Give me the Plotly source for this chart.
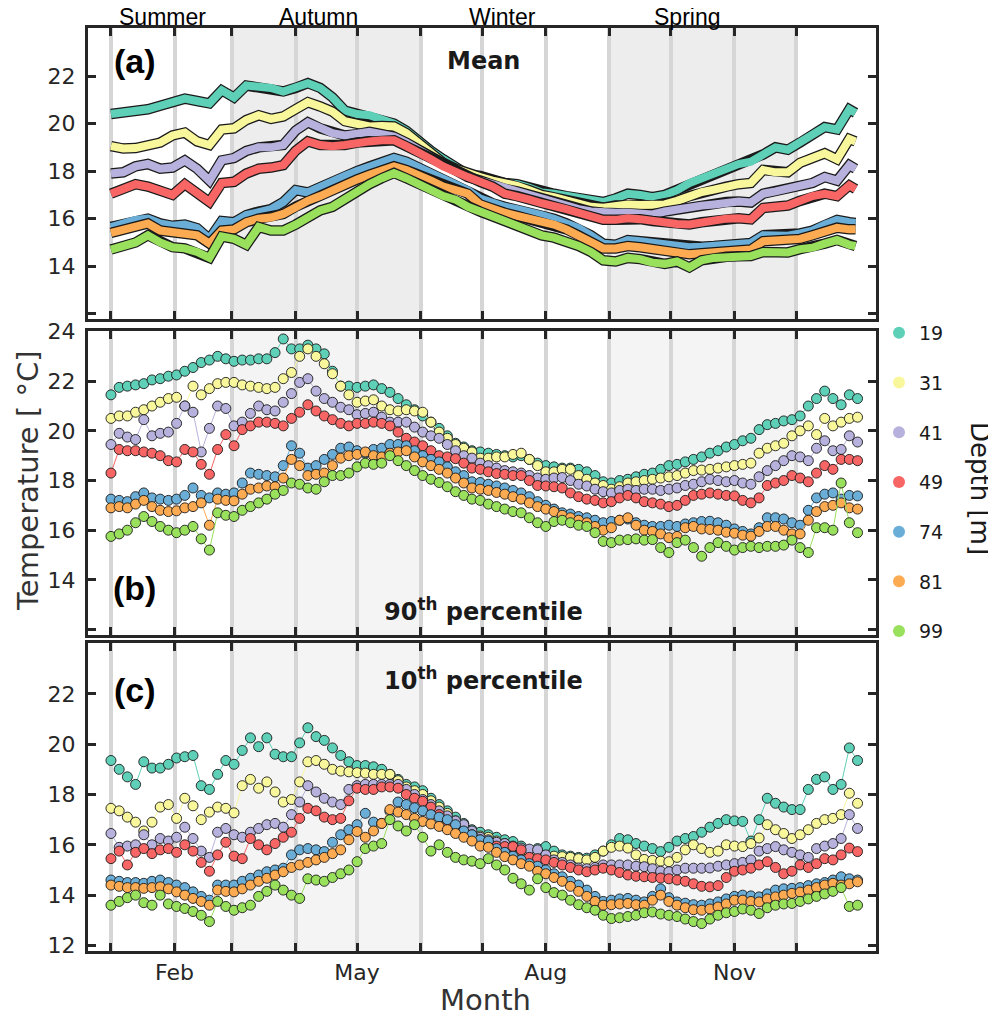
import plotly.graph_objects as go
from plotly.subplots import make_subplots

# ---- data -------------------------------------------------------------
DEPTHS = ["19", "31", "41", "49", "74", "81", "99"]
COLORS = ["#5fd0b8", "#f9f79c", "#b7b2dd", "#f76565", "#6aaed8", "#fdab52", "#99e05c"]

MONTH_STARTS = [1, 32, 60, 91, 121, 152, 182, 213, 244, 274, 305, 335]
MONTH_TEXT = ["", "Feb", "", "", "May", "", "", "Aug", "", "", "Nov", ""]
SEASONS = ["Summer", "Autumn", "Winter", "Spring"]
SEASON_MID = [26, 102, 192, 282]
SHADED = [(60, 152), (244, 335)]

# panel (a): mean, sampled every 6 days
DAYS_MEAN = list(range(1, 362, 6)) + [364]
MEAN_19 = [20.4, 20.45, 20.5, 20.6, 20.75, 20.9, 21.05, 20.95, 20.85, 21.4,
           21.1, 21.6, 21.55, 21.5, 21.35, 21.5, 21.7, 21.5, 21.1, 20.55,
           20.4, 20.35, 20.2, 20.0, 19.7, 19.25, 18.85, 18.5, 18.15, 17.85,
           17.8, 17.6, 17.5, 17.45, 17.3, 17.1, 17.05, 16.95, 16.87, 16.75,
           16.7, 16.85, 17.05, 17.0, 16.9, 17.0, 17.2, 17.5, 17.7, 17.85,
           18.1, 18.3, 18.4, 18.7, 19.0, 18.9, 19.2, 19.55, 19.85, 19.75,
           20.6, 20.45]
MEAN_31 = [19.05, 18.95, 18.97, 19.1, 19.2, 19.5, 19.62, 19.25, 19.1, 19.75,
           19.8, 20.15, 20.35, 20.2, 20.3, 20.6, 20.9, 20.72, 20.5, 20.1,
           19.95, 19.88, 19.9, 19.88, 19.6, 19.15, 18.75, 18.35, 18.1, 17.9,
           17.75, 17.6, 17.5, 17.38, 17.2, 17.0, 16.9, 16.75, 16.6, 16.5,
           16.46, 16.55, 16.6, 16.58, 16.55, 16.6, 16.75, 16.95, 17.12, 17.22,
           17.35, 17.45, 17.5, 18.05, 17.95, 17.95, 18.35, 18.55, 18.75, 18.5,
           19.35, 19.25]
MEAN_41 = [17.9, 17.95, 18.2, 18.3, 18.1, 18.15, 18.45, 18.1, 17.6, 18.45,
           18.55, 18.85, 19.0, 19.0, 19.1, 19.7, 20.05, 19.8, 19.6, 19.5,
           19.55, 19.65, 19.55, 19.45, 19.2, 18.9, 18.55, 18.25, 18.0, 17.75,
           17.6, 17.4, 17.25, 17.15, 17.0, 16.85, 16.7, 16.55, 16.4, 16.3,
           16.25, 16.25, 16.25, 16.2, 16.18, 16.3, 16.4, 16.45, 16.55, 16.6,
           16.7, 16.72, 16.68, 17.05, 17.15, 17.25, 17.4, 17.5, 17.75, 17.6,
           18.25, 18.1]
MEAN_49 = [17.05, 17.25, 17.45, 17.35, 17.15, 17.0, 17.45, 17.1, 16.7, 17.5,
           17.55, 17.9, 18.1, 18.15, 18.25, 18.85, 19.25, 19.1, 19.05, 19.1,
           19.2, 19.25, 19.3, 19.3, 19.05, 18.8, 18.5, 18.2, 17.95, 17.75,
           17.55, 17.35, 17.05, 16.95, 16.8, 16.65, 16.55, 16.4, 16.25, 16.1,
           15.95, 15.95, 16.02, 15.98, 15.9, 15.85, 15.78, 15.76, 15.85, 15.9,
           16.0, 16.02, 15.97, 16.45, 16.5, 16.55, 16.75, 16.95, 17.05, 16.95,
           17.4, 17.25]
MEAN_74 = [15.65, 15.8, 15.95, 16.0, 15.8, 15.7, 15.75, 15.6, 15.15, 15.9,
           15.85, 16.15, 16.3, 16.4, 16.7, 17.2, 17.1, 17.35, 17.55, 17.8,
           18.0, 18.2, 18.35, 18.55, 18.4, 18.15, 17.9, 17.65, 17.45, 17.2,
           16.85, 16.65, 16.5, 16.4, 16.3, 16.15, 16.0, 15.8, 15.6, 15.3,
           14.95, 14.9, 15.1, 15.05, 14.98, 14.9, 14.85, 14.8, 14.82, 14.85,
           14.9, 14.95, 14.98, 15.3, 15.3, 15.28, 15.38, 15.5, 15.75, 15.95,
           15.85, 15.82]
MEAN_81 = [15.4, 15.55, 15.7, 15.8, 15.5, 15.42, 15.42, 15.3, 14.95, 15.5,
           15.55, 15.85, 16.0, 16.05, 16.2, 16.5, 16.75, 16.95, 17.2, 17.45,
           17.65, 17.85, 18.0, 18.2, 18.05, 17.85, 17.6, 17.35, 17.2, 17.05,
           16.6, 16.4, 16.25, 16.12, 16.0, 15.88, 15.75, 15.55, 15.3, 15.0,
           14.75, 14.75, 14.85, 14.8, 14.72, 14.65, 14.55, 14.5, 14.55, 14.57,
           14.62, 14.66, 14.7, 15.05, 15.06, 15.08, 15.15, 15.3, 15.45, 15.62,
           15.55, 15.55]
MEAN_99 = [14.7, 14.85, 15.0, 15.3, 15.0, 14.8, 14.75, 14.6, 14.35, 15.25,
           15.15, 14.9, 15.65, 15.5, 15.5, 15.75, 16.1, 16.35, 16.5, 16.85,
           17.15, 17.45, 17.7, 17.92, 17.7, 17.45, 17.2, 16.95, 16.8, 16.5,
           16.3, 16.1, 15.9, 15.65, 15.5, 15.3, 15.2, 15.05, 14.85, 14.6,
           14.25, 14.2, 14.35, 14.3, 14.15, 14.1, 14.2, 13.95, 14.25, 14.35,
           14.4, 14.42, 14.43, 14.6, 14.62, 14.58, 14.72, 14.78, 14.95, 15.1,
           14.9, 14.85]

# panels (b) and (c): percentiles, sampled every 4 days
DAYS_PCT = list(range(1, 366, 4))
P90_19 = [21.45, 21.75, 21.8, 21.85, 21.9, 22.05, 22.1, 22.2, 22.25, 22.4,
          22.55, 22.75, 22.85, 23.0, 22.9, 22.8, 22.85, 22.85, 22.9, 22.9,
          23.15, 23.7, 23.3, 23.3, 23.45, 23.3, 23.1, 22.4, 21.8, 21.8,
          21.75, 21.8, 21.85, 21.7, 21.55, 21.3, 21.05, 20.85, 20.6, 20.35,
          20.1, 19.8, 19.5, 19.35, 19.2, 19.15, 19.1, 19.05, 19.0, 18.95,
          19.0, 18.85, 18.7, 18.6, 18.55, 18.5, 18.5, 18.45, 18.35, 18.2,
          17.95, 17.9, 18.0, 18.05, 18.15, 18.25, 18.3, 18.45, 18.6, 18.65,
          18.75, 18.85, 18.95, 19.1, 19.2, 19.35, 19.45, 19.6, 19.7, 20.05,
          20.25, 20.3, 20.4, 20.45, 20.6, 21.0, 21.3, 21.6, 21.3, 21.05,
          21.45, 21.3]
P90_31 = [20.5, 20.6, 20.6, 20.75, 20.85, 21.0, 21.15, 21.3, 21.35, 21.0,
          21.8, 21.45, 21.7, 21.9, 21.95, 21.95, 21.85, 21.8, 21.75, 21.7,
          21.75, 22.1, 22.35, 23.0, 23.3, 23.0, 22.7, 22.3, 21.8, 21.45,
          21.15, 21.2, 21.25, 21.0, 20.85, 20.8, 20.85, 20.8, 20.75, 20.35,
          19.95, 19.7, 19.45, 19.3, 19.15, 18.9, 18.9, 18.95, 18.95, 19.05,
          19.1, 18.85, 18.6, 18.35, 18.35, 18.45, 18.45, 18.2, 18.05, 17.9,
          17.8, 17.65, 17.75, 17.9, 17.95, 18.0, 18.05, 18.1, 18.15, 18.2,
          18.3, 18.4, 18.42, 18.45, 18.5, 18.55, 18.6, 18.65, 18.7, 19.1,
          19.3, 19.4, 19.5, 19.8, 20.0, 20.2, 19.85, 20.5, 20.2, 20.35,
          20.5, 20.55]
P90_41 = [19.45, 19.9, 19.75, 19.65, 20.45, 19.8, 19.9, 19.95, 20.3, 21.0,
          20.75, 19.15, 20.1, 21.0, 20.9, 20.2, 20.35, 20.7, 21.0, 20.85,
          20.8, 21.15, 21.5, 21.95, 22.1, 21.6, 21.3, 21.15, 20.95, 20.85,
          20.65, 20.7, 20.75, 20.55, 20.35, 20.35, 20.35, 20.15, 19.95, 19.8,
          19.7, 19.45, 19.2, 19.0, 18.9, 18.7, 18.6, 18.5, 18.4, 18.35,
          18.3, 18.2, 18.1, 18.05, 18.1, 18.12, 18.0, 17.85, 17.78, 17.65,
          17.55, 17.5, 17.6, 17.65, 17.6, 17.65, 17.65, 17.6, 17.65, 17.7,
          17.8, 17.85, 17.95, 18.05, 18.0, 17.95, 18.0, 17.9, 17.85, 18.15,
          18.4, 18.6, 18.8, 19.0, 18.95, 18.8, 19.3, 19.6, 19.2, 19.25,
          19.8, 19.55]
P90_49 = [18.3, 19.25, 19.2, 19.2, 19.15, 19.1, 19.0, 18.8, 18.75, 19.25,
          19.15, 18.65, 18.25, 19.25, 19.85, 19.4, 20.05, 20.2, 20.35, 20.35,
          20.3, 20.2, 20.5, 20.75, 21.05, 20.8, 20.6, 20.45, 20.3, 20.2,
          20.3, 20.3, 20.35, 20.3, 20.2, 19.95, 19.7, 19.55, 19.4, 19.2,
          19.0, 18.95, 18.88, 18.7, 18.5, 18.45, 18.35, 18.28, 18.25, 18.2,
          18.2, 18.0, 17.8, 17.78, 17.75, 17.7, 17.5, 17.35, 17.25, 17.2,
          17.1, 17.15, 17.3, 17.4, 17.3, 17.15, 17.1, 17.05, 16.95, 17.0,
          17.2, 17.4, 17.45, 17.5, 17.45, 17.4, 17.38, 17.2, 17.1, 17.3,
          17.8, 17.9, 18.0, 18.2, 18.1, 17.95, 18.3, 18.6, 18.45, 18.85,
          18.85, 18.8]
P90_74 = [17.25, 17.2, 17.15, 17.35, 17.5, 17.3, 17.25, 17.2, 17.25, 17.4,
          17.7, 17.4, 17.3, 17.5, 17.45, 17.5, 17.9, 18.3, 18.25, 18.2,
          18.15, 18.6, 19.4, 19.1, 18.5, 18.6, 18.85, 19.05, 19.3, 19.35,
          19.2, 19.1, 19.25, 19.3, 19.45, 19.45, 19.4, 19.2, 19.0, 18.85,
          18.75, 18.55, 18.35, 18.2, 17.95, 17.92, 17.85, 17.78, 17.7, 17.6,
          17.5, 17.35, 17.15, 17.0, 16.85, 16.7, 16.65, 16.55, 16.5, 16.4,
          16.3, 16.35, 16.4, 16.45, 16.3, 16.2, 16.15, 16.15, 16.2, 16.15,
          16.25, 16.3, 16.35, 16.36, 16.3, 16.2, 16.05, 15.95, 15.85, 16.1,
          16.5, 16.5, 16.45, 16.3, 16.2, 16.8, 17.3, 17.45, 17.5, 17.25,
          17.4, 17.38]
P90_81 = [16.9, 16.95, 16.9, 17.05, 17.2, 16.95, 16.8, 16.75, 16.78, 16.9,
          16.95, 17.1, 16.2, 17.25, 17.2, 17.18, 17.45, 17.65, 17.7, 17.78,
          17.75, 18.1, 18.85, 18.6, 18.2, 18.25, 18.3, 18.6, 18.9, 19.0,
          19.05, 19.15, 19.0, 18.95, 19.1, 19.15, 19.2, 18.95, 18.75, 18.6,
          18.45, 18.3, 18.1, 17.9, 17.7, 17.65, 17.6, 17.52, 17.45, 17.35,
          17.25, 17.1, 16.95, 16.85, 16.75, 16.6, 16.5, 16.4, 16.3, 16.15,
          16.0, 16.1, 16.4, 16.5, 16.2, 16.0, 15.95, 15.85, 15.7, 15.75,
          16.1, 16.15, 16.05, 16.03, 16.0, 15.92, 15.88, 15.8, 15.76, 15.95,
          16.15, 16.15, 16.0, 15.85, 15.85, 16.4, 16.75, 16.95, 17.0, 17.1,
          16.9, 16.85]
P90_99 = [15.75, 15.85, 16.0, 16.3, 16.55, 16.35, 16.15, 16.0, 15.9, 16.0,
          16.15, 15.65, 15.2, 16.7, 16.6, 16.55, 16.8, 16.95, 17.1, 17.25,
          17.45, 17.6, 17.9, 17.85, 17.7, 17.65, 17.95, 18.2, 18.2, 18.3,
          18.55, 18.7, 18.65, 18.7, 19.0, 18.8, 18.6, 18.4, 18.2, 18.05,
          17.92, 17.75, 17.55, 17.4, 17.25, 17.2, 17.05, 16.95, 16.85, 16.75,
          16.7, 16.5, 16.3, 16.15, 16.35, 16.4, 16.3, 16.2, 16.15, 15.9,
          15.55, 15.5, 15.6, 15.62, 15.65, 15.6, 15.62, 15.3, 15.1, 15.5,
          15.6, 15.3, 14.95, 15.3, 15.5, 15.35, 15.2, 15.3, 15.35, 15.3,
          15.35, 15.35, 15.4, 15.6, 15.3, 15.1, 16.1, 16.1, 16.0, 17.9,
          16.3, 15.9]

P10_19 = [19.35, 19.0, 18.7, 18.4, 19.3, 19.05, 19.05, 19.2, 19.45, 19.5,
          19.55, 18.35, 18.2, 18.8, 19.35, 19.2, 19.75, 20.25, 19.9, 20.25,
          19.6, 19.5, 19.5, 20.05, 20.65, 20.3, 20.15, 19.85, 19.55, 19.3,
          19.15, 19.15, 19.1, 19.0, 18.8, 18.6, 18.4, 18.3, 18.15, 17.85,
          17.6, 17.35, 17.1, 16.85, 16.6, 16.5, 16.4, 16.3, 16.2, 16.13,
          15.95, 15.75, 15.85, 15.93, 15.75, 15.6, 15.55, 15.5, 15.47, 15.6,
          15.75, 16.0, 16.25, 16.2, 16.05, 15.95, 15.85, 15.73, 15.9, 16.15,
          16.25, 16.33, 16.5, 16.7, 16.85, 17.0, 16.95, 16.93, 16.15, 17.0,
          17.85, 17.65, 17.5, 17.4, 17.4, 18.2, 18.6, 18.7, 18.2, 18.4,
          19.85, 19.35]
P10_31 = [17.45, 17.35, 17.1, 16.9, 16.55, 16.9, 17.5, 17.6, 17.05, 17.85,
          17.55, 17.0, 17.3, 17.5, 17.45, 17.27, 18.35, 18.6, 18.25, 18.5,
          18.1, 17.7, 17.8, 18.5, 19.3, 19.35, 19.2, 19.0, 18.93, 18.9,
          18.87, 18.85, 18.8, 18.8, 18.8, 18.55, 18.3, 18.15, 18.0, 17.75,
          17.5, 17.25, 16.95, 16.7, 16.45, 16.35, 16.3, 16.15, 16.05, 15.9,
          15.75, 15.7, 15.6, 15.58, 15.55, 15.53, 15.5, 15.45, 15.4, 15.5,
          15.75, 15.9, 15.95, 15.87, 15.6, 15.42, 15.38, 15.35, 15.33, 15.5,
          15.8, 16.0, 15.85, 15.7, 15.75, 16.0, 15.95, 15.93, 16.05, 16.27,
          16.8, 16.6, 16.45, 16.25, 16.4, 16.6, 16.85, 17.0, 17.05, 17.2,
          18.05, 17.65]
P10_41 = [16.45, 15.9, 15.95, 16.0, 16.4, 16.0, 16.25, 16.15, 16.3, 16.7,
          16.25, 15.75, 15.5, 16.5, 16.65, 16.4, 16.3, 16.5, 16.65, 16.8,
          16.85, 16.7, 17.2, 17.7, 18.35, 18.1, 17.85, 17.7, 17.6, 18.2,
          18.35, 18.4, 18.4, 18.4, 18.4, 18.4, 18.2, 18.0, 17.8, 17.6,
          17.35, 17.15, 16.95, 16.8, 16.55, 16.3, 16.2, 16.1, 16.05, 15.95,
          15.87, 15.83, 15.8, 15.6, 15.4, 15.3, 15.2, 15.08, 15.05, 15.1,
          15.2, 15.2, 15.2, 15.2, 15.15, 15.13, 15.05, 14.95, 14.93, 15.0,
          15.07, 15.07, 15.07, 15.08, 15.15, 15.2, 15.25, 15.3, 15.4, 15.75,
          15.85, 15.93, 15.8, 15.7, 15.6, 15.5, 15.85, 15.95, 16.05, 16.25,
          17.2, 16.65]
P10_49 = [15.45, 15.75, 15.2, 15.7, 15.85, 15.65, 15.8, 15.85, 15.7, 16.0,
          15.75, 15.3, 14.95, 15.6, 16.1, 15.55, 15.45, 16.25, 16.0, 15.8,
          16.05, 16.3, 16.5, 17.05, 17.45, 17.35, 17.1, 17.0, 17.05, 17.75,
          18.25, 18.2, 18.2, 18.3, 18.3, 18.25, 18.0, 17.85, 17.73, 17.5,
          17.2, 16.9, 16.65, 16.5, 16.4, 16.2, 16.1, 15.95, 15.93, 15.93,
          15.8, 15.5, 15.45, 15.4, 15.3, 15.2, 15.1, 15.0, 14.93, 15.0,
          15.07, 15.0, 14.9, 14.8, 14.75, 14.73, 14.7, 14.68, 14.65, 14.6,
          14.55, 14.45, 14.35, 14.33, 14.38, 14.7, 14.95, 15.0, 15.07, 15.2,
          15.33, 15.1, 14.85, 14.95, 15.2, 15.1, 15.25, 15.45, 15.4, 15.6,
          15.87, 15.73]
P10_74 = [14.6, 14.55, 14.5, 14.5, 14.47, 14.55, 14.6, 14.5, 14.4, 14.3,
          14.13, 13.95, 13.8, 14.4, 14.4, 14.4, 14.55, 14.67, 14.8, 14.93,
          15.0, 15.07, 15.6, 15.8, 15.85, 15.8, 15.73, 16.1, 16.4, 16.6,
          16.8, 17.25, 16.9, 16.85, 17.33, 17.7, 17.6, 17.47, 17.35, 17.2,
          17.1, 17.0, 16.8, 16.55, 16.4, 16.2, 16.15, 15.85, 15.7, 15.55,
          15.4, 15.25, 15.15, 15.0, 14.85, 14.73, 14.55, 14.4, 14.2, 13.95,
          13.75, 13.8, 13.85, 13.87, 13.8, 13.73, 13.95, 14.25, 13.9, 13.73,
          13.68, 13.62, 13.6, 13.65, 13.73, 13.85, 13.95, 14.0, 13.97, 13.93,
          14.05, 14.2, 14.25, 14.27, 14.3, 14.38, 14.45, 14.5, 14.6, 14.73,
          14.65, 14.6]
P10_81 = [14.4, 14.35, 14.3, 14.3, 14.27, 14.3, 14.33, 14.25, 14.13, 14.0,
          13.87, 13.75, 13.6, 14.2, 14.15, 14.13, 14.25, 14.4, 14.55, 14.67,
          14.8, 14.93, 15.1, 15.2, 15.3, 15.4, 15.5, 15.65, 15.8, 16.2,
          16.53, 16.3, 16.55, 16.85, 17.4, 17.3, 17.2, 17.05, 16.93, 16.83,
          16.73, 16.6, 16.45, 16.3, 16.15, 15.95, 15.9, 15.7, 15.53, 15.4,
          15.25, 15.15, 14.95, 14.85, 14.7, 14.55, 14.35, 14.15, 13.95, 13.75,
          13.6, 13.62, 13.65, 13.67, 13.62, 13.6, 13.8, 14.0, 13.75, 13.6,
          13.5, 13.42, 13.4, 13.45, 13.53, 13.65, 13.8, 13.8, 13.75, 13.73,
          13.85, 13.93, 14.0, 14.07, 14.12, 14.2, 14.3, 14.4, 14.47, 14.4,
          14.45, 14.53]
P10_99 = [13.6, 13.75, 13.9, 14.0, 13.7, 13.6, 14.0, 13.65, 13.55, 13.47,
          13.35, 13.2, 12.95, 13.75, 13.55, 13.4, 13.5, 13.6, 13.95, 14.15,
          14.4, 14.2, 14.0, 13.87, 14.65, 14.6, 14.55, 14.7, 14.85, 15.0,
          15.33, 15.85, 15.95, 16.05, 17.0, 16.75, 16.55, 16.8, 16.3, 15.75,
          16.0, 15.7, 15.5, 15.4, 15.35, 15.25, 15.45, 15.2, 15.0, 14.67,
          14.45, 14.2, 14.65, 14.3, 14.1, 14.0, 13.8, 13.62, 13.5, 13.4,
          13.2, 13.07, 13.1, 13.15, 13.2, 13.3, 13.33, 13.25, 13.2, 13.15,
          13.05, 12.95, 12.87, 13.05, 13.2, 13.3, 13.35, 13.45, 13.4, 13.27,
          13.5, 13.6, 13.65, 13.67, 13.75, 13.85, 13.95, 14.05, 14.15, 14.3,
          13.55, 13.6]

MEAN = [MEAN_19, MEAN_31, MEAN_41, MEAN_49, MEAN_74, MEAN_81, MEAN_99]
P90 = [P90_19, P90_31, P90_41, P90_49, P90_74, P90_81, P90_99]
P10 = [P10_19, P10_31, P10_41, P10_49, P10_74, P10_81, P10_99]

Y_TICKS = [12, 14, 16, 18, 20, 22, 24]
Y_TEXT = {
    1: ["", "14", "16", "18", "20", "22", ""],
    2: ["", "14", "16", "18", "20", "22", "24"],
    3: ["12", "14", "16", "18", "20", "22", ""],
}

# ---- figure -----------------------------------------------------------
# the page body adds an 8 px margin, so the figure is 8 px smaller than the
# window and all positions below are given in window pixels
OFF = 8
W, H = 996 - OFF, 1021 - OFF
INK = "#262626"
EDGE = "#1a1a1a"


def px_x(p):
    return (p - OFF) / W


def px_y(p):
    return 1 - (p - OFF) / H


fig = make_subplots(rows=3, cols=1)

for color, vals in zip(COLORS, MEAN):
    fig.add_trace(go.Scatter(x=DAYS_MEAN, y=vals, mode="lines", showlegend=False,
                             line=dict(color=EDGE, width=10.5), hoverinfo="skip"), row=1, col=1)
    fig.add_trace(go.Scatter(x=DAYS_MEAN, y=vals, mode="lines", showlegend=False,
                             line=dict(color=color, width=8)), row=1, col=1)

for row, series in ((2, P90), (3, P10)):
    for color, vals in zip(COLORS, series):
        fig.add_trace(go.Scatter(
            x=DAYS_PCT, y=vals, mode="lines+markers", showlegend=False,
            line=dict(color=color, width=1),
            marker=dict(size=10, color=color, line=dict(color=EDGE, width=0.9)),
        ), row=row, col=1)

# legend-only entries
for depth, color in zip(DEPTHS, COLORS):
    fig.add_trace(go.Scatter(x=[None], y=[None], mode="markers", name=depth,
                             legendgroup=depth, marker=dict(size=12, color=color)),
                  row=1, col=1)

domains = {1: (28, 319), 2: (331, 635), 3: (643, 951)}
for row, (top, bottom) in domains.items():
    fig.update_xaxes(
        row=row, col=1, domain=[px_x(88), px_x(876)], range=[-10.2, 374.0],
        automargin=False,
        tickmode="array", tickvals=MONTH_STARTS, ticktext=MONTH_TEXT,
        showticklabels=(row == 3), ticks="inside", ticklen=8, tickwidth=2.5,
        tickcolor=INK, showline=True, linewidth=3, linecolor=INK, mirror="allticks",
        showgrid=True, gridcolor="#d6d6d6", gridwidth=3.5, zeroline=False,
        tickfont=dict(family="DejaVu Sans", size=22, color=INK),
    )
    fig.update_yaxes(
        row=row, col=1, domain=[px_y(bottom), px_y(top)], range=[11.78, 24.02],
        automargin=False,
        tickmode="array", tickvals=Y_TICKS, ticktext=Y_TEXT[row],
        ticks="inside", ticklen=8, tickwidth=2.5, tickcolor=INK,
        showline=True, linewidth=3, linecolor=INK, mirror="allticks",
        showgrid=False, zeroline=False, ticklabelstandoff=5,
        tickfont=dict(family="DejaVu Sans", size=22, color=INK),
    )
    suffix = "" if row == 1 else str(row)
    shade = "#ededed" if row == 1 else "#f4f4f4"
    for x0, x1 in SHADED:
        fig.add_shape(type="rect", xref="x" + suffix, yref="y" + suffix + " domain",
                      x0=x0, x1=x1, y0=0, y1=1, fillcolor=shade,
                      line=dict(width=0), layer="below")


def label(x, y, text, size, family, color="black", angle=0, xref="paper"):
    return dict(x=x, y=y, xref=xref, yref="paper", text=text, showarrow=False,
                xanchor="center", yanchor="middle", textangle=angle,
                font=dict(family=family, size=size, color=color))


annotations = []
for name, mid in zip(SEASONS, SEASON_MID):
    annotations.append(label(mid, px_y(17), name, 23, "Liberation Sans", xref="x"))

for text, ypx in [("(a)", 61), ("(b)", 588), ("(c)", 690)]:
    annotations.append(label(px_x(135), px_y(ypx), "<b>%s</b>" % text, 34, "Liberation Sans"))

for text, ypx in [("<b>Mean</b>", 61), ("<b>90<sup>th</sup> percentile</b>", 610),
                  ("<b>10<sup>th</sup> percentile</b>", 679)]:
    annotations.append(label(px_x(483), px_y(ypx), text, 24, "DejaVu Sans", "#1a1a1a"))

annotations.append(label(px_x(28), px_y(481), "Temperature [ °C]", 29, "DejaVu Sans", "#333333", -90))
annotations.append(label(px_x(485), px_y(1000), "Month", 29, "DejaVu Sans", "#333333"))
annotations.append(label(px_x(980), px_y(488), "Depth [m]", 26, "DejaVu Sans", "#1a1a1a", 90))

fig.update_layout(
    template="none",
    width=W, height=H,
    margin=dict(l=0, r=0, t=0, b=0, autoexpand=False),
    paper_bgcolor="white", plot_bgcolor="white",
    annotations=annotations,
    showlegend=True,
    legend=dict(x=px_x(879), y=px_y(314), xanchor="left", yanchor="top",
                font=dict(family="DejaVu Sans", size=19, color="#1a1a1a"),
                tracegroupgap=22, bgcolor="rgba(0,0,0,0)"),
)

fig.write_html("out.html")
